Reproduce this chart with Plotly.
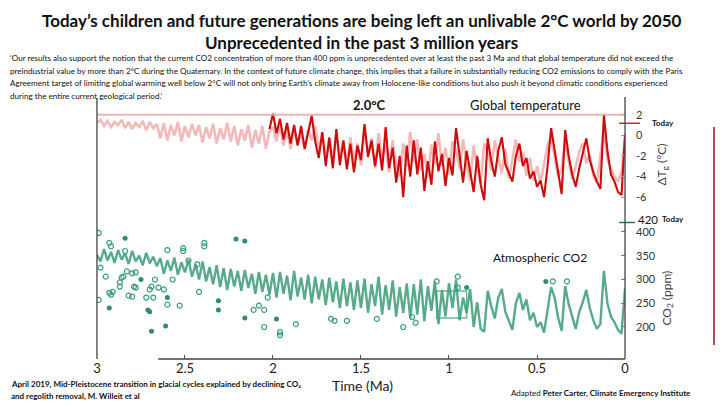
#!/usr/bin/env python3
"""
Slide: global temperature and atmospheric CO2 over the past 3 million years
(Willeit et al 2019), redrawn with plotly.
"""

import numpy as np
import plotly.graph_objects as go

W, H = 720, 405
FONT = "Lato"
STEP = 0.02

# time axis
TIME_TICKS = [3, 2.5, 2, 1.5, 1, 0.5, 0]
TIME_LABELS = ["3", "2.5", "2", "1.5", "1", "0.5", "0"]

# global temperature anomaly (deg C), light ensemble, 3.00 Ma -> 0.00 Ma
PINK_START = 3.0
PINK_T = [
    1.2, 1.5, 0.9, 1.4, 0.8, 1.3, 1.0, 1.5, 0.7, 1.3, 0.6, 1.2, 0.8, 1.4, 0.5, 1.3, 0.7, 1.1,
    -0.3, 1.2, -0.5, 1.0, 0.0, 1.3, -0.6, 0.9, -0.2, 1.1,
    0.0, 1.0, -0.7, 0.8, -0.3, 1.1, -0.8, 0.7, -0.4, 1.2, -0.6,
    0.9, -1.0, 0.6, -0.5, 1.0, -1.2, 0.5, -0.8, 0.9, -1.3, 0.4,
    0.8, -0.6, 1.0, -1.0, 0.5, -1.3, 0.7, -0.9, 0.3, -1.4, 0.6, -0.5, 0.9,
    -1.5, 0.2, -2.2, -0.4, -2.6, 0.1, -2.0, -0.6, -2.8, -0.2, -2.5, -0.8,
    -2.9, 0.5, -1.8, -0.3, -3.2, 0.2, -2.4, -1.0, -3.6, -0.5, -2.8, -4.0, -0.8, -3.0, 0.3,
    -2.6, -0.4, -3.4, -1.8, -4.1, -0.9, -2.8, 0.2, -3.0, -1.2,
    -3.8, -0.6, -1.4, -3.2, -0.4, -2.9, -4.4, -1.0, -3.1, -4.7,
    -0.8, -1.6, -3.4, -0.5, -2.1, -3.7, -1.3, -4.2, -2.4, -0.4,
    -2.6, -1.6, -3.9, -2.2, -4.4, -3.0, -4.6, -2.8, -1.0, -0.2,
    -2.2, -4.0, -3.2, -0.6, -2.5, -4.3, -3.0, -1.6, -0.8, -2.7,
    -1.9, -3.9, -4.6, -2.0, 0.6, -2.4, -3.3, -4.0, -4.5, -3.6,
    -0.4,
]

# global temperature anomaly (deg C), dark curve, 2.02 Ma -> 0.00 Ma
RED_START = 2.02
RED_T = [
    0.6, 2.1, 0.2, 1.6, -0.4, 1.2, -0.8, 1.0, -1.0, 0.9,
    -1.3, 0.2, 1.9, -0.6, -2.2, 0.3, -3.0, -0.2, -3.2, 0.6,
    -2.9, -0.5, -3.3, -0.8, -3.6, -1.0, -2.4, 1.1, -2.1, -0.5,
    -3.0, -0.8, -3.4, 0.8, -3.2, -1.2, -4.6, -2.0, -6.0, -1.0,
    -4.0, -0.5, -3.8, -1.2, -5.4, -2.5, -4.8, -0.6, -3.5, -1.8,
    -4.9, -2.2, -3.9, 0.7, -2.0, -4.6, -1.5, -3.5, -5.5, -2.0,
    -4.8, -6.3, -0.3, -2.5, -4.0, -1.5, -0.2, -2.8, -3.6, -4.5,
    -2.0, -0.8, -3.0, -2.2, -4.2, -3.5, -5.0, -4.4, -6.0, -3.0,
    0.7, -1.5, -3.5, -5.7, 0.5, -2.0, -3.8, -5.0, -3.2, -1.8,
    -0.3, -2.4, -3.6, -4.5, -5.2, 2.0, -1.5, -3.8, -4.5, -5.5,
    -5.8, 0.1,
]

# atmospheric CO2 (ppm), model curve, 3.00 Ma -> 0.00 Ma
CO2_START = 3.0
CO2_PPM = [
    352, 338, 364, 340, 358, 335, 362, 342, 355, 333, 360, 338, 350, 330, 356, 334, 348, 328,
    345, 312, 340, 318, 346, 310, 336, 315, 342, 306,
    332, 300, 338, 296, 326, 290, 330, 284, 324, 278, 322,
    285, 318, 276, 320, 282, 312, 270, 316, 274, 310, 268,
    314, 262, 316, 270, 308, 256, 318, 264, 304, 258, 310, 250, 306,
    258, 300, 246, 304, 252, 296, 240, 302, 244, 294, 236, 298,
    240, 302, 230, 290, 244, 306, 226, 288, 236, 298, 222, 284, 230, 292, 218,
    290, 226, 300, 212, 286, 234, 296, 206, 278, 222,
    292, 240, 300, 214, 262, 230, 280, 200, 252, 196,
    190, 276, 244, 218, 262, 280, 232, 212, 194, 250,
    272, 236, 258, 214, 230, 200, 210, 188, 232, 284,
    262, 220, 192, 286, 248, 222, 196, 232, 252, 278,
    240, 214, 196, 206, 318, 250, 222, 210, 194, 186,
    282,
]

# CO2 proxy data (Ma, ppm)
OPEN_T = [2.99, 2.93, 2.92, 2.84, 2.98, 2.95, 2.99, 2.93, 2.92, 2.91, 2.86, 2.85, 2.83,
          2.80, 2.78, 2.87, 2.87, 2.82, 2.80, 2.79, 2.78, 2.72, 2.68, 2.70, 2.69, 2.67,
          2.65, 2.62, 2.60, 2.60, 2.57, 2.53, 2.51, 2.51, 2.48, 2.43, 2.42, 2.39, 2.39,
          2.11, 2.08, 2.05, 2.05, 2.03, 1.96, 1.96, 1.87, 1.67, 1.65, 1.58, 1.41, 1.26,
          1.21, 1.19, 1.07, 0.95, 0.95, 0.41, 0.33]
OPEN_C = [398, 377, 370, 360, 325, 306, 257, 272, 268, 274, 304, 306, 317,
          313, 315, 285, 294, 266, 264, 285, 283, 262, 262, 279, 285, 300,
          283, 279, 247, 362, 300, 245, 366, 360, 340, 332, 274, 377, 370,
          236, 245, 236, 200, 262, 189, 183, 206, 217, 213, 213, 217, 200,
          221, 209, 296, 306, 283, 296, 296]
FILLED_T = [2.84, 2.93, 2.75, 2.71, 2.70, 2.69, 2.61, 2.60, 2.31, 2.31, 2.21, 2.16,
            2.16, 1.98, 0.90, 0.45]
FILLED_C = [387, 240, 300, 236, 232, 191, 202, 262, 236, 255, 385, 381,
            219, 217, 283, 296]

# highlighted box on the CO2 panel
BOX_T = [1.07, 0.90]
BOX_C = [219, 276]

TEMP_TICKS = [2, 0, -2, -4, -6]
CO2_TICKS = [200, 250, 300, 350, 400]
LIMIT_TEMP = 2.0
TODAY_TEMP = 1.17
TODAY_CO2 = 420

QUOTE = [
    "\u2018Our results also support the notion that the current CO2 concentration of more than 400 ppm is "
    "unprecedented over at least the past 3 Ma and that global temperature did not exceed the",
    "preindustrial value by more than 2\u00b0C during the Quaternary. In the context of future climate change, "
    "this implies that a failure in substantially reducing CO2 emissions to comply with the Paris",
    "Agreement target of limiting global warming well below 2\u00b0C will not only bring Earth\u2019s climate "
    "away from Holocene-like conditions but also push it beyond climatic conditions experienced",
    "during the entire current geological period.\u2019",
]


def px(x):
    return x / W


def py(y):
    return 1 - y / H


def times(start, n):
    return np.round(start - STEP * np.arange(n), 2)


def text(x, y, s, size, color="#111", xanchor="center", angle=0, bold=False):
    if bold:
        s = f"<b>{s}</b>"
    return dict(x=px(x), y=py(y), xref="paper", yref="paper", text=s, showarrow=False,
                xanchor=xanchor, yanchor="middle", textangle=angle,
                font=dict(family=FONT, size=size, color=color))


def build_figure():
    fig = go.Figure()

    fig.add_trace(go.Scatter(x=times(PINK_START, len(PINK_T)), y=PINK_T, mode="lines",
                             line=dict(color="rgba(236,125,125,0.55)", width=2.6),
                             yaxis="y", showlegend=False))
    fig.add_trace(go.Scatter(x=times(RED_START, len(RED_T)), y=RED_T, mode="lines",
                             line=dict(color="#d10a0a", width=2.1),
                             yaxis="y", showlegend=False))

    fig.add_trace(go.Scatter(x=times(CO2_START, len(CO2_PPM)), y=CO2_PPM, mode="lines",
                             line=dict(color="rgba(45,150,110,0.8)", width=2.4),
                             yaxis="y2", showlegend=False))
    fig.add_trace(go.Scatter(x=OPEN_T, y=OPEN_C, mode="markers",
                             marker=dict(symbol="circle-open", size=5, color="#3a9e7a",
                                         line=dict(width=1.2)),
                             yaxis="y2", showlegend=False))
    fig.add_trace(go.Scatter(x=FILLED_T, y=FILLED_C, mode="markers",
                             marker=dict(symbol="circle", size=5, color="#2e8f6a"),
                             yaxis="y2", showlegend=False))

    shapes = [
        # 2 degC limit line
        dict(type="line", xref="x", yref="y", x0=3, x1=0, y0=LIMIT_TEMP, y1=LIMIT_TEMP,
             line=dict(color="rgba(240,160,160,0.8)", width=2)),
        # box on the CO2 curve
        dict(type="rect", xref="x", yref="y2", x0=BOX_T[0], x1=BOX_T[1], y0=BOX_C[0], y1=BOX_C[1],
             line=dict(color="rgba(60,160,120,0.75)", width=1.5)),
        # today markers
        dict(type="line", xref="paper", yref="y", x0=px(622), x1=px(643),
             y0=TODAY_TEMP, y1=TODAY_TEMP, line=dict(color="#e0201e", width=1.5)),
        dict(type="line", xref="paper", yref="y2", x0=px(622), x1=px(638),
             y0=TODAY_CO2, y1=TODAY_CO2, line=dict(color="#2a6f55", width=1.5)),
        # frame lines
        dict(type="line", xref="paper", yref="paper", x0=px(94), x1=px(94), y0=py(98), y1=py(359),
             line=dict(color="#444", width=1.3)),
        dict(type="line", xref="paper", yref="paper", x0=px(628), x1=px(628), y0=py(97), y1=py(359),
             line=dict(color="#444", width=1.3)),
        dict(type="line", xref="paper", yref="paper", x0=px(156), x1=px(628), y0=py(359), y1=py(359),
             line=dict(color="#444", width=1.3)),
        # slide edge line
        dict(type="line", xref="paper", yref="paper", x0=px(718), x1=px(718), y0=py(127), y1=py(345),
             line=dict(color="#a01515", width=1.5)),
    ]

    annotations = [
        text(362, 20, "Today\u2019s children and future generations are being left an unlivable 2\u00b0C world by 2050",
             17, bold=True),
        text(362, 42, "Unprecedented in the past 3 million years", 17, bold=True),
    ]
    for i, line in enumerate(QUOTE):
        annotations.append(text(4, 58 + 12.6 * i, line, 8.1, xanchor="left"))

    annotations += [
        text(370, 105, "2.0\u00b0C", 13, bold=True),
        text(527, 105, "Global temperature", 13),
        text(542, 257, "Atmospheric CO2", 12),
        text(653, 123, "Today", 8, xanchor="left", bold=True),
        text(639, 219, "420", 11.5, xanchor="left"),
        text(663, 219, "Today", 8, xanchor="left", bold=True),
        text(665, 165, "\u0394T<sub>g</sub> (\u00b0C)", 12, color="#444", angle=-90),
        text(670, 298, "CO<sub>2</sub> (ppm)", 12, color="#444", angle=-90),
        text(363, 385, "Time (Ma)", 14, color="#222"),
        text(5, 384, "April 2019, Mid-Pleistocene transition in glacial cycles explained by declining CO\u2082",
             8, xanchor="left", bold=True),
        text(5, 396, "and regolith removal, M. Willeit et al", 8, xanchor="left", bold=True),
        text(511, 393, "Adapted <b>Peter Carter, Climate Emergency Institute</b>", 8, xanchor="left"),
    ]

    dom = [py(359), py(97)]
    fig.update_layout(
        width=W, height=H,
        margin=dict(l=0, r=0, t=0, b=0),
        paper_bgcolor="white", plot_bgcolor="white",
        font=dict(family=FONT),
        xaxis=dict(domain=[px(94), px(628)], range=[3, 0], anchor="y",
                   tickvals=TIME_TICKS, ticktext=TIME_LABELS, ticks="inside", ticklen=4,
                   tickcolor="#555", showgrid=False, zeroline=False, showline=False,
                   tickfont=dict(family=FONT, size=13, color="#222")),
        yaxis=dict(domain=dom, range=[-21.72, 3.72], side="right", anchor="x",
                   tickvals=TEMP_TICKS, ticktext=[str(v) for v in TEMP_TICKS],
                   ticks="inside", ticklen=4, tickcolor="#e58080", ticklabelstandoff=10,
                   showgrid=False, zeroline=False, showline=False,
                   tickfont=dict(family=FONT, size=11, color="#333")),
        yaxis2=dict(domain=dom, range=[132.6, 684.2], side="right", anchor="x", overlaying="y",
                    tickvals=CO2_TICKS, ticks="inside", ticklen=4, tickcolor="#3a9e7a",
                    ticklabelstandoff=10, showgrid=False, zeroline=False, showline=False,
                    tickfont=dict(family=FONT, size=11, color="#333")),
        shapes=shapes,
        annotations=annotations,
    )
    return fig


def main():
    fig = build_figure()
    # the page's default body margin would push the 720x405 figure off the window
    fig.write_html("out.html", config={"displayModeBar": False},
                   post_script="document.body.style.margin='0';")
    print("Saved out.html")


if __name__ == "__main__":
    main()
